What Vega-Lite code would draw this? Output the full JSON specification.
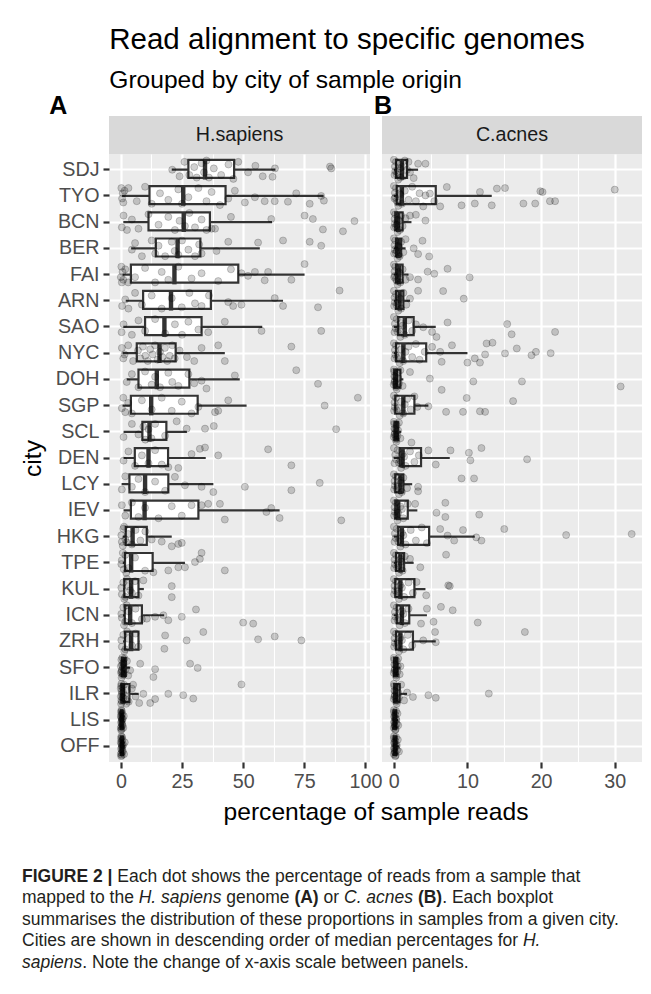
{
"$schema":"https://vega.github.io/schema/vega-lite/v6.json",
"background":"white",
"padding":{"left":20,"top":24,"right":5,"bottom":5},
"config":{"font":"Liberation Sans","view":{"stroke":null},"axis":{"labelFont":"Liberation Sans","titleFont":"Liberation Sans"},"title":{"font":"Liberation Sans","subtitleFont":"Liberation Sans"}},
"title":{"text":"Read alignment to specific genomes","subtitle":"Grouped by city of sample origin","anchor":"start","fontSize":29.5,"fontWeight":"normal","color":"black","subtitleFontSize":24.6,"subtitleColor":"black","subtitlePadding":14,"offset":0,"dx":89},
"datasets":{
"box":[
{"g":"H","c":"SDJ","lo":20.8,"q1":27.6,"md":34.4,"q3":46.3,"hi":63.2},
{"g":"H","c":"TYO","lo":0.5,"q1":11.7,"md":25.5,"q3":42.8,"hi":82.9},
{"g":"H","c":"BCN","lo":1.0,"q1":11.3,"md":25.7,"q3":36.4,"hi":61.8},
{"g":"H","c":"BER","lo":4.2,"q1":14.3,"md":23.2,"q3":32.5,"hi":56.8},
{"g":"H","c":"FAI","lo":0.7,"q1":4.1,"md":21.9,"q3":48.0,"hi":75.1},
{"g":"H","c":"ARN","lo":2.0,"q1":9.1,"md":20.5,"q3":36.8,"hi":66.3},
{"g":"H","c":"SAO","lo":1.0,"q1":9.9,"md":17.8,"q3":33.0,"hi":57.8},
{"g":"H","c":"NYC","lo":0.7,"q1":6.5,"md":15.8,"q3":22.4,"hi":42.5},
{"g":"H","c":"DOH","lo":2.4,"q1":7.2,"md":14.7,"q3":28.0,"hi":48.6},
{"g":"H","c":"SGP","lo":0.7,"q1":4.1,"md":12.4,"q3":31.4,"hi":51.4},
{"g":"H","c":"SCL","lo":1.1,"q1":8.8,"md":11.7,"q3":18.6,"hi":27.0},
{"g":"H","c":"DEN","lo":1.1,"q1":5.7,"md":11.3,"q3":19.3,"hi":34.7},
{"g":"H","c":"LCY","lo":0.3,"q1":3.5,"md":9.9,"q3":19.4,"hi":37.8},
{"g":"H","c":"IEV","lo":1.1,"q1":4.1,"md":9.7,"q3":31.7,"hi":64.9},
{"g":"H","c":"HKG","lo":0.8,"q1":2.0,"md":4.8,"q3":10.6,"hi":20.8},
{"g":"H","c":"TPE","lo":0.8,"q1":1.7,"md":4.2,"q3":13.0,"hi":26.2},
{"g":"H","c":"KUL","lo":0.9,"q1":1.4,"md":4.2,"q3":7.2,"hi":9.4},
{"g":"H","c":"ICN","lo":0.9,"q1":1.6,"md":3.8,"q3":8.6,"hi":17.7},
{"g":"H","c":"ZRH","lo":0.9,"q1":1.7,"md":4.2,"q3":7.2,"hi":7.6},
{"g":"H","c":"SFO","lo":0.1,"q1":0.4,"md":1.0,"q3":2.0,"hi":3.8},
{"g":"H","c":"ILR","lo":0.0,"q1":0.2,"md":0.8,"q3":3.5,"hi":7.3},
{"g":"H","c":"LIS","lo":0.0,"q1":0.1,"md":0.3,"q3":0.6,"hi":1.2},
{"g":"H","c":"OFF","lo":0.0,"q1":0.1,"md":0.4,"q3":0.8,"hi":1.6},
{"g":"C","c":"SDJ","lo":0,"q1":0.3,"md":1.1,"q3":1.8,"hi":3.3},
{"g":"C","c":"TYO","lo":0,"q1":0.4,"md":1.1,"q3":5.7,"hi":13.3},
{"g":"C","c":"BCN","lo":0,"q1":0.2,"md":0.6,"q3":1.2,"hi":2.4},
{"g":"C","c":"BER","lo":0,"q1":0.3,"md":0.6,"q3":1.0,"hi":1.6},
{"g":"C","c":"FAI","lo":0,"q1":0.3,"md":0.7,"q3":1.2,"hi":2.0},
{"g":"C","c":"ARN","lo":0,"q1":0.3,"md":0.8,"q3":1.3,"hi":2.2},
{"g":"C","c":"SAO","lo":0,"q1":0.6,"md":1.5,"q3":2.7,"hi":5.7},
{"g":"C","c":"NYC","lo":0,"q1":0.3,"md":1.3,"q3":4.4,"hi":10.0},
{"g":"C","c":"DOH","lo":0,"q1":0.05,"md":0.3,"q3":0.9,"hi":1.3},
{"g":"C","c":"SGP","lo":0,"q1":0.2,"md":1.3,"q3":2.8,"hi":4.7},
{"g":"C","c":"SCL","lo":0,"q1":0.1,"md":0.3,"q3":0.6,"hi":1.0},
{"g":"C","c":"DEN","lo":0,"q1":0.8,"md":1.2,"q3":3.7,"hi":7.6},
{"g":"C","c":"LCY","lo":0,"q1":0.2,"md":0.9,"q3":1.3,"hi":2.5},
{"g":"C","c":"IEV","lo":0,"q1":0.2,"md":0.6,"q3":1.9,"hi":3.2},
{"g":"C","c":"HKG","lo":0,"q1":0.6,"md":1.1,"q3":4.8,"hi":11.0},
{"g":"C","c":"TPE","lo":0,"q1":0.3,"md":0.9,"q3":1.4,"hi":2.7},
{"g":"C","c":"KUL","lo":0,"q1":0.2,"md":0.9,"q3":2.8,"hi":4.3},
{"g":"C","c":"ICN","lo":0,"q1":0.4,"md":1.1,"q3":2.1,"hi":4.5},
{"g":"C","c":"ZRH","lo":0,"q1":0.3,"md":0.9,"q3":2.6,"hi":5.7},
{"g":"C","c":"SFO","lo":0,"q1":0.05,"md":0.2,"q3":0.5,"hi":0.9},
{"g":"C","c":"ILR","lo":0,"q1":0.05,"md":0.3,"q3":0.8,"hi":1.8},
{"g":"C","c":"LIS","lo":0,"q1":0.02,"md":0.1,"q3":0.3,"hi":0.6},
{"g":"C","c":"OFF","lo":0,"q1":0.02,"md":0.15,"q3":0.35,"hi":0.7}
],
"pts":[
{"g":"H","c":"SDJ","v":21,"j":0},{"g":"H","c":"SDJ","v":24,"j":0.25},{"g":"H","c":"SDJ","v":26,"j":-0.3},{"g":"H","c":"SDJ","v":28,"j":0.2},{"g":"H","c":"SDJ","v":30,"j":-0.1},{"g":"H","c":"SDJ","v":31,"j":0.3},{"g":"H","c":"SDJ","v":33,"j":-0.25},{"g":"H","c":"SDJ","v":34,"j":0.1},{"g":"H","c":"SDJ","v":35,"j":-0.35},{"g":"H","c":"SDJ","v":36,"j":0.3},{"g":"H","c":"SDJ","v":38,"j":-0.05},{"g":"H","c":"SDJ","v":41,"j":0.2},{"g":"H","c":"SDJ","v":44,"j":-0.2},{"g":"H","c":"SDJ","v":46,"j":0.35},{"g":"H","c":"SDJ","v":48,"j":-0.3},{"g":"H","c":"SDJ","v":52,"j":0.1},{"g":"H","c":"SDJ","v":55,"j":-0.15},{"g":"H","c":"SDJ","v":58,"j":0.25},{"g":"H","c":"SDJ","v":62,"j":0.27},{"g":"H","c":"SDJ","v":63,"j":-0.05},{"g":"H","c":"SDJ","v":85.5,"j":-0.12},{"g":"H","c":"SDJ","v":86,"j":-0.05},
{"g":"H","c":"TYO","v":0.2,"j":-0.3},{"g":"H","c":"TYO","v":0.5,"j":0.1},{"g":"H","c":"TYO","v":0.8,"j":-0.1},{"g":"H","c":"TYO","v":1.0,"j":0.25},{"g":"H","c":"TYO","v":1.5,"j":-0.2},{"g":"H","c":"TYO","v":3.1,"j":-0.3},{"g":"H","c":"TYO","v":6.5,"j":0.2},{"g":"H","c":"TYO","v":9.9,"j":-0.35},{"g":"H","c":"TYO","v":12.6,"j":0.3},{"g":"H","c":"TYO","v":16,"j":-0.1},{"g":"H","c":"TYO","v":19.4,"j":0.15},{"g":"H","c":"TYO","v":23.5,"j":-0.25},{"g":"H","c":"TYO","v":25,"j":0.3},{"g":"H","c":"TYO","v":27.6,"j":0.05},{"g":"H","c":"TYO","v":31.7,"j":-0.3},{"g":"H","c":"TYO","v":35,"j":0.2},{"g":"H","c":"TYO","v":37.1,"j":-0.15},{"g":"H","c":"TYO","v":40.5,"j":0.35},{"g":"H","c":"TYO","v":43.9,"j":0.1},{"g":"H","c":"TYO","v":46.6,"j":-0.2},{"g":"H","c":"TYO","v":50.7,"j":0.25},{"g":"H","c":"TYO","v":54.8,"j":0.05},{"g":"H","c":"TYO","v":58.8,"j":0.2},{"g":"H","c":"TYO","v":62.9,"j":0.2},{"g":"H","c":"TYO","v":68.3,"j":0.22},{"g":"H","c":"TYO","v":71.7,"j":-0.1},{"g":"H","c":"TYO","v":77.2,"j":0.3},{"g":"H","c":"TYO","v":81.9,"j":0},{"g":"H","c":"TYO","v":83.0,"j":0.18},
{"g":"H","c":"BCN","v":0.4,"j":0.2},{"g":"H","c":"BCN","v":1.1,"j":-0.25},{"g":"H","c":"BCN","v":2.5,"j":0.3},{"g":"H","c":"BCN","v":4.5,"j":-0.1},{"g":"H","c":"BCN","v":7.2,"j":0.25},{"g":"H","c":"BCN","v":11.3,"j":-0.3},{"g":"H","c":"BCN","v":15.4,"j":0.1},{"g":"H","c":"BCN","v":19.4,"j":-0.2},{"g":"H","c":"BCN","v":22.1,"j":0.3},{"g":"H","c":"BCN","v":24,"j":-0.05},{"g":"H","c":"BCN","v":26.2,"j":0.15},{"g":"H","c":"BCN","v":28,"j":-0.35},{"g":"H","c":"BCN","v":30.3,"j":0.2},{"g":"H","c":"BCN","v":33.0,"j":-0.1},{"g":"H","c":"BCN","v":35,"j":0.3},{"g":"H","c":"BCN","v":37.1,"j":0.25},{"g":"H","c":"BCN","v":38.5,"j":0.25},{"g":"H","c":"BCN","v":45,"j":-0.2},{"g":"H","c":"BCN","v":61.5,"j":-0.12},{"g":"H","c":"BCN","v":75.1,"j":-0.25},{"g":"H","c":"BCN","v":78.5,"j":-0.12},{"g":"H","c":"BCN","v":82.6,"j":0.28},{"g":"H","c":"BCN","v":90.8,"j":0.35},{"g":"H","c":"BCN","v":95.5,"j":-0.04},
{"g":"H","c":"BER","v":4.5,"j":0.05},{"g":"H","c":"BER","v":5.8,"j":-0.2},{"g":"H","c":"BER","v":8.6,"j":0.3},{"g":"H","c":"BER","v":12.6,"j":-0.3},{"g":"H","c":"BER","v":14,"j":0.2},{"g":"H","c":"BER","v":15.4,"j":-0.1},{"g":"H","c":"BER","v":18.1,"j":0.3},{"g":"H","c":"BER","v":20.8,"j":-0.25},{"g":"H","c":"BER","v":22,"j":0.1},{"g":"H","c":"BER","v":23.5,"j":0.25},{"g":"H","c":"BER","v":25,"j":-0.3},{"g":"H","c":"BER","v":27.6,"j":0.05},{"g":"H","c":"BER","v":30.3,"j":0.3},{"g":"H","c":"BER","v":32,"j":-0.15},{"g":"H","c":"BER","v":33,"j":0.2},{"g":"H","c":"BER","v":39.1,"j":0.1},{"g":"H","c":"BER","v":43.9,"j":-0.25},{"g":"H","c":"BER","v":56.1,"j":-0.22},{"g":"H","c":"BER","v":66.3,"j":-0.3},{"g":"H","c":"BER","v":77.2,"j":-0.25},{"g":"H","c":"BER","v":81.9,"j":-0.1},
{"g":"H","c":"FAI","v":0.0,"j":0.1},{"g":"H","c":"FAI","v":0.2,"j":-0.3},{"g":"H","c":"FAI","v":0.4,"j":0.3},{"g":"H","c":"FAI","v":0.7,"j":-0.1},{"g":"H","c":"FAI","v":1.0,"j":0.2},{"g":"H","c":"FAI","v":1.8,"j":-0.2},{"g":"H","c":"FAI","v":3,"j":0.3},{"g":"H","c":"FAI","v":5.8,"j":0.1},{"g":"H","c":"FAI","v":9.9,"j":-0.25},{"g":"H","c":"FAI","v":14,"j":0.3},{"g":"H","c":"FAI","v":16.7,"j":-0.1},{"g":"H","c":"FAI","v":19.4,"j":0.2},{"g":"H","c":"FAI","v":23.5,"j":-0.3},{"g":"H","c":"FAI","v":28.9,"j":0.15},{"g":"H","c":"FAI","v":33,"j":-0.05},{"g":"H","c":"FAI","v":39.8,"j":0.25},{"g":"H","c":"FAI","v":45,"j":-0.2},{"g":"H","c":"FAI","v":49.3,"j":-0.05},{"g":"H","c":"FAI","v":52,"j":0.05},{"g":"H","c":"FAI","v":54.8,"j":-0.1},{"g":"H","c":"FAI","v":58.8,"j":0.22},{"g":"H","c":"FAI","v":60.2,"j":-0.1},{"g":"H","c":"FAI","v":69.7,"j":0.2},{"g":"H","c":"FAI","v":75.1,"j":-0.4},
{"g":"H","c":"ARN","v":0.5,"j":0.2},{"g":"H","c":"ARN","v":1.8,"j":-0.05},{"g":"H","c":"ARN","v":3.1,"j":0.3},{"g":"H","c":"ARN","v":5.8,"j":-0.3},{"g":"H","c":"ARN","v":8.6,"j":0.15},{"g":"H","c":"ARN","v":12.6,"j":-0.2},{"g":"H","c":"ARN","v":16.7,"j":0.3},{"g":"H","c":"ARN","v":20.8,"j":-0.1},{"g":"H","c":"ARN","v":24.9,"j":0.25},{"g":"H","c":"ARN","v":28,"j":-0.3},{"g":"H","c":"ARN","v":30.3,"j":0.1},{"g":"H","c":"ARN","v":33,"j":0.2},{"g":"H","c":"ARN","v":36,"j":-0.2},{"g":"H","c":"ARN","v":43.9,"j":0.05},{"g":"H","c":"ARN","v":45.9,"j":0.2},{"g":"H","c":"ARN","v":49.3,"j":0.15},{"g":"H","c":"ARN","v":62.9,"j":-0.1},{"g":"H","c":"ARN","v":66.3,"j":0.2},{"g":"H","c":"ARN","v":80.6,"j":0.25},{"g":"H","c":"ARN","v":89.4,"j":-0.39},
{"g":"H","c":"SAO","v":0.3,"j":0.2},{"g":"H","c":"SAO","v":1.1,"j":-0.1},{"g":"H","c":"SAO","v":4.5,"j":0.3},{"g":"H","c":"SAO","v":7.2,"j":-0.25},{"g":"H","c":"SAO","v":9.9,"j":0.15},{"g":"H","c":"SAO","v":14,"j":-0.3},{"g":"H","c":"SAO","v":18.1,"j":0.25},{"g":"H","c":"SAO","v":22.1,"j":-0.1},{"g":"H","c":"SAO","v":25,"j":0.3},{"g":"H","c":"SAO","v":27.6,"j":-0.2},{"g":"H","c":"SAO","v":31.7,"j":0.1},{"g":"H","c":"SAO","v":35.7,"j":0.2},{"g":"H","c":"SAO","v":42.5,"j":-0.2},{"g":"H","c":"SAO","v":57.5,"j":0.15},{"g":"H","c":"SAO","v":81.9,"j":0.15},
{"g":"H","c":"NYC","v":0.4,"j":-0.2},{"g":"H","c":"NYC","v":1,"j":0.2},{"g":"H","c":"NYC","v":1.5,"j":0.05},{"g":"H","c":"NYC","v":3,"j":-0.3},{"g":"H","c":"NYC","v":5,"j":0.3},{"g":"H","c":"NYC","v":7,"j":-0.1},{"g":"H","c":"NYC","v":8,"j":0.2},{"g":"H","c":"NYC","v":9,"j":-0.25},{"g":"H","c":"NYC","v":10,"j":0.1},{"g":"H","c":"NYC","v":11,"j":0.3},{"g":"H","c":"NYC","v":12,"j":-0.15},{"g":"H","c":"NYC","v":13,"j":0.05},{"g":"H","c":"NYC","v":14,"j":-0.3},{"g":"H","c":"NYC","v":15,"j":0.25},{"g":"H","c":"NYC","v":16,"j":-0.05},{"g":"H","c":"NYC","v":17,"j":0.15},{"g":"H","c":"NYC","v":18,"j":-0.2},{"g":"H","c":"NYC","v":19,"j":0.3},{"g":"H","c":"NYC","v":20,"j":0.1},{"g":"H","c":"NYC","v":21,"j":-0.3},{"g":"H","c":"NYC","v":22,"j":0.2},{"g":"H","c":"NYC","v":24,"j":-0.1},{"g":"H","c":"NYC","v":27,"j":0.15},{"g":"H","c":"NYC","v":30,"j":0.3},{"g":"H","c":"NYC","v":33,"j":-0.2},{"g":"H","c":"NYC","v":39.8,"j":-0.3},{"g":"H","c":"NYC","v":42.5,"j":0.3},{"g":"H","c":"NYC","v":69.7,"j":-0.25},
{"g":"H","c":"DOH","v":2.4,"j":0.1},{"g":"H","c":"DOH","v":4.5,"j":-0.2},{"g":"H","c":"DOH","v":7.2,"j":0.3},{"g":"H","c":"DOH","v":9.9,"j":-0.3},{"g":"H","c":"DOH","v":12.6,"j":0.2},{"g":"H","c":"DOH","v":14,"j":-0.1},{"g":"H","c":"DOH","v":16,"j":0.3},{"g":"H","c":"DOH","v":19.4,"j":-0.25},{"g":"H","c":"DOH","v":21,"j":0.1},{"g":"H","c":"DOH","v":23.5,"j":0.25},{"g":"H","c":"DOH","v":27.6,"j":-0.2},{"g":"H","c":"DOH","v":30,"j":0.15},{"g":"H","c":"DOH","v":33,"j":0.05},{"g":"H","c":"DOH","v":35,"j":0.35},{"g":"H","c":"DOH","v":46.6,"j":-0.15},{"g":"H","c":"DOH","v":71.7,"j":-0.35},{"g":"H","c":"DOH","v":80.6,"j":0.17},
{"g":"H","c":"SGP","v":0.4,"j":0.1},{"g":"H","c":"SGP","v":1.0,"j":-0.3},{"g":"H","c":"SGP","v":1.8,"j":0.25},{"g":"H","c":"SGP","v":3,"j":-0.1},{"g":"H","c":"SGP","v":4.5,"j":0.3},{"g":"H","c":"SGP","v":8.6,"j":-0.2},{"g":"H","c":"SGP","v":12.6,"j":0.15},{"g":"H","c":"SGP","v":16.7,"j":-0.3},{"g":"H","c":"SGP","v":20.8,"j":0.2},{"g":"H","c":"SGP","v":24.9,"j":-0.15},{"g":"H","c":"SGP","v":28.9,"j":0.3},{"g":"H","c":"SGP","v":31.7,"j":0.05},{"g":"H","c":"SGP","v":38.5,"j":0.25},{"g":"H","c":"SGP","v":39.8,"j":0.2},{"g":"H","c":"SGP","v":43.9,"j":-0.2},{"g":"H","c":"SGP","v":83.3,"j":0},{"g":"H","c":"SGP","v":96.9,"j":-0.3},
{"g":"H","c":"SCL","v":1.1,"j":0.2},{"g":"H","c":"SCL","v":4.5,"j":-0.3},{"g":"H","c":"SCL","v":7.2,"j":0.1},{"g":"H","c":"SCL","v":9.2,"j":-0.2},{"g":"H","c":"SCL","v":10,"j":0.3},{"g":"H","c":"SCL","v":11.3,"j":-0.1},{"g":"H","c":"SCL","v":12.5,"j":0.25},{"g":"H","c":"SCL","v":14,"j":-0.3},{"g":"H","c":"SCL","v":18.1,"j":0.15},{"g":"H","c":"SCL","v":22.8,"j":-0.4},{"g":"H","c":"SCL","v":26.9,"j":-0.12},{"g":"H","c":"SCL","v":34.4,"j":-0.12},{"g":"H","c":"SCL","v":38.0,"j":-0.22},{"g":"H","c":"SCL","v":88.0,"j":-0.1},
{"g":"H","c":"DEN","v":1.1,"j":0.1},{"g":"H","c":"DEN","v":3.1,"j":-0.25},{"g":"H","c":"DEN","v":5.8,"j":0.3},{"g":"H","c":"DEN","v":8.6,"j":-0.1},{"g":"H","c":"DEN","v":11.3,"j":0.2},{"g":"H","c":"DEN","v":14,"j":-0.3},{"g":"H","c":"DEN","v":16.7,"j":0.25},{"g":"H","c":"DEN","v":19.4,"j":0.35},{"g":"H","c":"DEN","v":23.5,"j":0.38},{"g":"H","c":"DEN","v":28.9,"j":-0.15},{"g":"H","c":"DEN","v":32.3,"j":-0.35},{"g":"H","c":"DEN","v":34.4,"j":-0.4},{"g":"H","c":"DEN","v":39.8,"j":-0.1},{"g":"H","c":"DEN","v":60.2,"j":-0.33},{"g":"H","c":"DEN","v":69.7,"j":0.28},
{"g":"H","c":"LCY","v":0.4,"j":0.2},{"g":"H","c":"LCY","v":1.8,"j":-0.3},{"g":"H","c":"LCY","v":4.5,"j":0.1},{"g":"H","c":"LCY","v":7.2,"j":-0.2},{"g":"H","c":"LCY","v":9.9,"j":0.3},{"g":"H","c":"LCY","v":14,"j":-0.1},{"g":"H","c":"LCY","v":18.1,"j":0.25},{"g":"H","c":"LCY","v":22.1,"j":-0.28},{"g":"H","c":"LCY","v":26.2,"j":0.04},{"g":"H","c":"LCY","v":33,"j":0.1},{"g":"H","c":"LCY","v":37.8,"j":0.3},{"g":"H","c":"LCY","v":50.7,"j":0.1},{"g":"H","c":"LCY","v":69.7,"j":0.23},{"g":"H","c":"LCY","v":81.3,"j":-0.05},
{"g":"H","c":"IEV","v":0.4,"j":-0.2},{"g":"H","c":"IEV","v":1.8,"j":0.2},{"g":"H","c":"IEV","v":4.5,"j":-0.3},{"g":"H","c":"IEV","v":7.2,"j":0.25},{"g":"H","c":"IEV","v":9.9,"j":-0.1},{"g":"H","c":"IEV","v":15.4,"j":0.3},{"g":"H","c":"IEV","v":20.8,"j":-0.16},{"g":"H","c":"IEV","v":24.9,"j":0.2},{"g":"H","c":"IEV","v":28.9,"j":-0.2},{"g":"H","c":"IEV","v":33,"j":-0.2},{"g":"H","c":"IEV","v":35.7,"j":-0.25},{"g":"H","c":"IEV","v":40.5,"j":-0.25},{"g":"H","c":"IEV","v":42.5,"j":0.35},{"g":"H","c":"IEV","v":59.5,"j":0.06},{"g":"H","c":"IEV","v":61.5,"j":-0.09},{"g":"H","c":"IEV","v":64.9,"j":0.29},{"g":"H","c":"IEV","v":90.1,"j":0.38},
{"g":"H","c":"HKG","v":0.4,"j":0.2},{"g":"H","c":"HKG","v":1,"j":-0.3},{"g":"H","c":"HKG","v":1.8,"j":0.1},{"g":"H","c":"HKG","v":3,"j":-0.1},{"g":"H","c":"HKG","v":4.5,"j":0.3},{"g":"H","c":"HKG","v":6,"j":-0.25},{"g":"H","c":"HKG","v":8,"j":0.15},{"g":"H","c":"HKG","v":10,"j":-0.2},{"g":"H","c":"HKG","v":12.6,"j":0.11},{"g":"H","c":"HKG","v":16.7,"j":0.19},{"g":"H","c":"HKG","v":20.8,"j":0.37},{"g":"H","c":"HKG","v":23.5,"j":0.28},{"g":"H","c":"HKG","v":24.9,"j":0.24},{"g":"H","c":"HKG","v":0.2,"j":-0.05},{"g":"H","c":"HKG","v":0.8,"j":0.35},{"g":"H","c":"HKG","v":1.3,"j":-0.38},{"g":"H","c":"HKG","v":2.4,"j":0.22},
{"g":"H","c":"TPE","v":0.4,"j":-0.1},{"g":"H","c":"TPE","v":1.2,"j":0.25},{"g":"H","c":"TPE","v":1.8,"j":-0.3},{"g":"H","c":"TPE","v":3.1,"j":0.2},{"g":"H","c":"TPE","v":5.8,"j":-0.2},{"g":"H","c":"TPE","v":9.9,"j":0.3},{"g":"H","c":"TPE","v":13.3,"j":0.36},{"g":"H","c":"TPE","v":19.4,"j":0.29},{"g":"H","c":"TPE","v":23.5,"j":0.17},{"g":"H","c":"TPE","v":26.2,"j":0.17},{"g":"H","c":"TPE","v":30.3,"j":-0.03},{"g":"H","c":"TPE","v":32.3,"j":-0.15},{"g":"H","c":"TPE","v":33,"j":-0.38},{"g":"H","c":"TPE","v":42.5,"j":0.29},{"g":"H","c":"TPE","v":0.2,"j":0.05},{"g":"H","c":"TPE","v":0.8,"j":-0.38},{"g":"H","c":"TPE","v":2.2,"j":0.38},
{"g":"H","c":"KUL","v":0.4,"j":0.2},{"g":"H","c":"KUL","v":1,"j":-0.25},{"g":"H","c":"KUL","v":1.8,"j":0.3},{"g":"H","c":"KUL","v":3.1,"j":-0.1},{"g":"H","c":"KUL","v":4.5,"j":0.15},{"g":"H","c":"KUL","v":5.8,"j":-0.3},{"g":"H","c":"KUL","v":7.2,"j":0.25},{"g":"H","c":"KUL","v":9.2,"j":-0.33},{"g":"H","c":"KUL","v":20.8,"j":-0.11},{"g":"H","c":"KUL","v":20.8,"j":0.31},{"g":"H","c":"KUL","v":0.2,"j":-0.05},{"g":"H","c":"KUL","v":1.4,"j":0.38},{"g":"H","c":"KUL","v":2.5,"j":-0.38},{"g":"H","c":"KUL","v":3.8,"j":0.05},
{"g":"H","c":"ICN","v":0.4,"j":0.1},{"g":"H","c":"ICN","v":1,"j":-0.3},{"g":"H","c":"ICN","v":1.8,"j":0.25},{"g":"H","c":"ICN","v":3.1,"j":-0.15},{"g":"H","c":"ICN","v":4.5,"j":0.3},{"g":"H","c":"ICN","v":6,"j":-0.25},{"g":"H","c":"ICN","v":8.6,"j":0.15},{"g":"H","c":"ICN","v":10.6,"j":0.13},{"g":"H","c":"ICN","v":14,"j":0.06},{"g":"H","c":"ICN","v":17.4,"j":0},{"g":"H","c":"ICN","v":19.4,"j":0.19},{"g":"H","c":"ICN","v":24.9,"j":0.06},{"g":"H","c":"ICN","v":30.7,"j":-0.22},{"g":"H","c":"ICN","v":50.0,"j":0.28},{"g":"H","c":"ICN","v":54.1,"j":0.32},{"g":"H","c":"ICN","v":0.2,"j":-0.05},{"g":"H","c":"ICN","v":1.3,"j":0.38},{"g":"H","c":"ICN","v":2.4,"j":-0.38},
{"g":"H","c":"ZRH","v":0.4,"j":0.2},{"g":"H","c":"ZRH","v":1,"j":-0.25},{"g":"H","c":"ZRH","v":1.8,"j":0.3},{"g":"H","c":"ZRH","v":3.1,"j":-0.1},{"g":"H","c":"ZRH","v":4.5,"j":0.15},{"g":"H","c":"ZRH","v":6,"j":-0.3},{"g":"H","c":"ZRH","v":7.2,"j":0.2},{"g":"H","c":"ZRH","v":17.8,"j":0.28},{"g":"H","c":"ZRH","v":18.1,"j":-0.23},{"g":"H","c":"ZRH","v":26.9,"j":-0.04},{"g":"H","c":"ZRH","v":33.7,"j":-0.36},{"g":"H","c":"ZRH","v":56.1,"j":-0.08},{"g":"H","c":"ZRH","v":62.9,"j":-0.19},{"g":"H","c":"ZRH","v":73.8,"j":-0.04},{"g":"H","c":"ZRH","v":0.2,"j":-0.05},{"g":"H","c":"ZRH","v":1.4,"j":0.38},{"g":"H","c":"ZRH","v":2.5,"j":-0.38},
{"g":"H","c":"SFO","v":0.1,"j":0.2},{"g":"H","c":"SFO","v":0.2,"j":-0.3},{"g":"H","c":"SFO","v":0.4,"j":0.1},{"g":"H","c":"SFO","v":0.5,"j":-0.1},{"g":"H","c":"SFO","v":0.8,"j":0.3},{"g":"H","c":"SFO","v":1,"j":-0.2},{"g":"H","c":"SFO","v":1.2,"j":0.25},{"g":"H","c":"SFO","v":1.5,"j":-0.35},{"g":"H","c":"SFO","v":2,"j":0.05},{"g":"H","c":"SFO","v":2.5,"j":-0.25},{"g":"H","c":"SFO","v":3,"j":0.3},{"g":"H","c":"SFO","v":3.8,"j":0.1},{"g":"H","c":"SFO","v":7.9,"j":-0.15},{"g":"H","c":"SFO","v":13.3,"j":0.36},{"g":"H","c":"SFO","v":14,"j":0.06},{"g":"H","c":"SFO","v":28.3,"j":-0.15},{"g":"H","c":"SFO","v":31.4,"j":0.01},{"g":"H","c":"SFO","v":0.0,"j":-0.05},{"g":"H","c":"SFO","v":0.3,"j":0.38},{"g":"H","c":"SFO","v":0.6,"j":-0.38},{"g":"H","c":"SFO","v":0.9,"j":0.0},{"g":"H","c":"SFO","v":1.1,"j":-0.15},{"g":"H","c":"SFO","v":0.2,"j":0.15},{"g":"H","c":"SFO","v":0.7,"j":0.22},
{"g":"H","c":"ILR","v":0.0,"j":0.1},{"g":"H","c":"ILR","v":0.1,"j":-0.3},{"g":"H","c":"ILR","v":0.2,"j":0.25},{"g":"H","c":"ILR","v":0.3,"j":-0.1},{"g":"H","c":"ILR","v":0.5,"j":0.3},{"g":"H","c":"ILR","v":0.7,"j":-0.25},{"g":"H","c":"ILR","v":1.0,"j":0.15},{"g":"H","c":"ILR","v":1.3,"j":-0.35},{"g":"H","c":"ILR","v":1.8,"j":0.2},{"g":"H","c":"ILR","v":2.5,"j":-0.15},{"g":"H","c":"ILR","v":3.2,"j":0.3},{"g":"H","c":"ILR","v":4.5,"j":-0.2},{"g":"H","c":"ILR","v":5,"j":-0.35},{"g":"H","c":"ILR","v":6,"j":0.1},{"g":"H","c":"ILR","v":7.5,"j":0.35},{"g":"H","c":"ILR","v":9.2,"j":0},{"g":"H","c":"ILR","v":12,"j":0.35},{"g":"H","c":"ILR","v":14,"j":0.2},{"g":"H","c":"ILR","v":19.4,"j":0},{"g":"H","c":"ILR","v":25.5,"j":0.05},{"g":"H","c":"ILR","v":29.6,"j":0.18},{"g":"H","c":"ILR","v":49.3,"j":-0.36},{"g":"H","c":"ILR","v":0.0,"j":-0.2},{"g":"H","c":"ILR","v":0.1,"j":0.38},{"g":"H","c":"ILR","v":0.2,"j":-0.38},{"g":"H","c":"ILR","v":0.4,"j":0.0},{"g":"H","c":"ILR","v":0.6,"j":0.12},{"g":"H","c":"ILR","v":0.9,"j":-0.05},{"g":"H","c":"ILR","v":1.5,"j":0.05},{"g":"H","c":"ILR","v":2.2,"j":0.38},
{"g":"H","c":"LIS","v":0.0,"j":0.3},{"g":"H","c":"LIS","v":0.05,"j":-0.3},{"g":"H","c":"LIS","v":0.1,"j":0.1},{"g":"H","c":"LIS","v":0.15,"j":-0.1},{"g":"H","c":"LIS","v":0.2,"j":0.25},{"g":"H","c":"LIS","v":0.25,"j":-0.2},{"g":"H","c":"LIS","v":0.3,"j":0.35},{"g":"H","c":"LIS","v":0.35,"j":-0.35},{"g":"H","c":"LIS","v":0.4,"j":0},{"g":"H","c":"LIS","v":0.5,"j":0.15},{"g":"H","c":"LIS","v":0.6,"j":-0.25},{"g":"H","c":"LIS","v":0.7,"j":0.2},{"g":"H","c":"LIS","v":0.8,"j":-0.05},{"g":"H","c":"LIS","v":1.0,"j":0.3},{"g":"H","c":"LIS","v":1.2,"j":-0.15},{"g":"H","c":"LIS","v":0.0,"j":-0.15},{"g":"H","c":"LIS","v":0.1,"j":0.38},{"g":"H","c":"LIS","v":0.2,"j":-0.38},{"g":"H","c":"LIS","v":0.3,"j":0.05},{"g":"H","c":"LIS","v":0.45,"j":-0.05},
{"g":"H","c":"OFF","v":0.0,"j":0.3},{"g":"H","c":"OFF","v":0.05,"j":-0.3},{"g":"H","c":"OFF","v":0.1,"j":0.1},{"g":"H","c":"OFF","v":0.2,"j":-0.1},{"g":"H","c":"OFF","v":0.25,"j":0.25},{"g":"H","c":"OFF","v":0.3,"j":-0.2},{"g":"H","c":"OFF","v":0.4,"j":0.35},{"g":"H","c":"OFF","v":0.5,"j":-0.35},{"g":"H","c":"OFF","v":0.55,"j":0},{"g":"H","c":"OFF","v":0.6,"j":0.15},{"g":"H","c":"OFF","v":0.7,"j":-0.25},{"g":"H","c":"OFF","v":0.8,"j":0.2},{"g":"H","c":"OFF","v":1.0,"j":-0.05},{"g":"H","c":"OFF","v":1.3,"j":0.3},{"g":"H","c":"OFF","v":1.6,"j":-0.15},{"g":"H","c":"OFF","v":0.0,"j":-0.15},{"g":"H","c":"OFF","v":0.1,"j":0.38},{"g":"H","c":"OFF","v":0.2,"j":-0.38},{"g":"H","c":"OFF","v":0.35,"j":0.05},{"g":"H","c":"OFF","v":0.45,"j":-0.05},
{"g":"C","c":"SDJ","v":0.1,"j":0.2},{"g":"C","c":"SDJ","v":0.3,"j":-0.3},{"g":"C","c":"SDJ","v":0.5,"j":0.1},{"g":"C","c":"SDJ","v":0.7,"j":-0.2},{"g":"C","c":"SDJ","v":0.9,"j":0.3},{"g":"C","c":"SDJ","v":1.1,"j":-0.1},{"g":"C","c":"SDJ","v":1.3,"j":0.25},{"g":"C","c":"SDJ","v":1.5,"j":-0.35},{"g":"C","c":"SDJ","v":1.8,"j":0},{"g":"C","c":"SDJ","v":2.0,"j":-0.3},{"g":"C","c":"SDJ","v":2.2,"j":0.1},{"g":"C","c":"SDJ","v":2.7,"j":0.32},{"g":"C","c":"SDJ","v":3.3,"j":-0.23},{"g":"C","c":"SDJ","v":4.3,"j":-0.23},
{"g":"C","c":"TYO","v":0.1,"j":0.1},{"g":"C","c":"TYO","v":0.3,"j":-0.3},{"g":"C","c":"TYO","v":0.5,"j":0.25},{"g":"C","c":"TYO","v":0.8,"j":-0.1},{"g":"C","c":"TYO","v":1.1,"j":0.3},{"g":"C","c":"TYO","v":1.5,"j":-0.2},{"g":"C","c":"TYO","v":2,"j":0.15},{"g":"C","c":"TYO","v":2.5,"j":-0.35},{"g":"C","c":"TYO","v":3,"j":0.2},{"g":"C","c":"TYO","v":3.5,"j":-0.1},{"g":"C","c":"TYO","v":4.0,"j":0.4},{"g":"C","c":"TYO","v":4.3,"j":-0.02},{"g":"C","c":"TYO","v":4.9,"j":-0.09},{"g":"C","c":"TYO","v":5.5,"j":0.2},{"g":"C","c":"TYO","v":6.3,"j":0.4},{"g":"C","c":"TYO","v":7.2,"j":-0.34},{"g":"C","c":"TYO","v":9.2,"j":0.36},{"g":"C","c":"TYO","v":11.0,"j":0.29},{"g":"C","c":"TYO","v":11.7,"j":-0.15},{"g":"C","c":"TYO","v":13.3,"j":0.36},{"g":"C","c":"TYO","v":14,"j":-0.28},{"g":"C","c":"TYO","v":15.1,"j":-0.3},{"g":"C","c":"TYO","v":17.6,"j":0.29},{"g":"C","c":"TYO","v":19.2,"j":0.29},{"g":"C","c":"TYO","v":19.9,"j":-0.18},{"g":"C","c":"TYO","v":20.2,"j":-0.15},{"g":"C","c":"TYO","v":21.2,"j":0.2},{"g":"C","c":"TYO","v":21.9,"j":0.2},{"g":"C","c":"TYO","v":30.0,"j":-0.24},
{"g":"C","c":"BCN","v":0.05,"j":0.2},{"g":"C","c":"BCN","v":0.2,"j":-0.3},{"g":"C","c":"BCN","v":0.4,"j":0.1},{"g":"C","c":"BCN","v":0.6,"j":-0.1},{"g":"C","c":"BCN","v":0.8,"j":0.3},{"g":"C","c":"BCN","v":1.0,"j":-0.25},{"g":"C","c":"BCN","v":1.2,"j":0.15},{"g":"C","c":"BCN","v":1.6,"j":-0.15},{"g":"C","c":"BCN","v":2.2,"j":-0.25},{"g":"C","c":"BCN","v":3.0,"j":-0.28},{"g":"C","c":"BCN","v":4.3,"j":-0.06},
{"g":"C","c":"BER","v":0.05,"j":0.2},{"g":"C","c":"BER","v":0.2,"j":-0.3},{"g":"C","c":"BER","v":0.4,"j":0.1},{"g":"C","c":"BER","v":0.6,"j":-0.1},{"g":"C","c":"BER","v":0.8,"j":0.3},{"g":"C","c":"BER","v":1.0,"j":-0.25},{"g":"C","c":"BER","v":1.3,"j":0.15},{"g":"C","c":"BER","v":1.6,"j":-0.35},{"g":"C","c":"BER","v":2.7,"j":0},{"g":"C","c":"BER","v":3.3,"j":0.22},{"g":"C","c":"BER","v":3.9,"j":-0.29},{"g":"C","c":"BER","v":4.8,"j":0.31},
{"g":"C","c":"FAI","v":0.05,"j":0.1},{"g":"C","c":"FAI","v":0.2,"j":-0.3},{"g":"C","c":"FAI","v":0.4,"j":0.25},{"g":"C","c":"FAI","v":0.7,"j":-0.1},{"g":"C","c":"FAI","v":0.9,"j":0.3},{"g":"C","c":"FAI","v":1.2,"j":-0.2},{"g":"C","c":"FAI","v":1.6,"j":0.2},{"g":"C","c":"FAI","v":2.2,"j":0.1},{"g":"C","c":"FAI","v":3.3,"j":0.19},{"g":"C","c":"FAI","v":4.6,"j":-0.11},{"g":"C","c":"FAI","v":5.5,"j":-0.03},{"g":"C","c":"FAI","v":7.3,"j":-0.22},{"g":"C","c":"FAI","v":10.3,"j":0.11},
{"g":"C","c":"ARN","v":0.05,"j":0.2},{"g":"C","c":"ARN","v":0.3,"j":-0.25},{"g":"C","c":"ARN","v":0.5,"j":0.1},{"g":"C","c":"ARN","v":0.8,"j":-0.1},{"g":"C","c":"ARN","v":1.0,"j":0.3},{"g":"C","c":"ARN","v":1.3,"j":-0.3},{"g":"C","c":"ARN","v":1.7,"j":0.15},{"g":"C","c":"ARN","v":2.2,"j":-0.08},{"g":"C","c":"ARN","v":3.3,"j":-0.38},{"g":"C","c":"ARN","v":6.7,"j":-0.37},{"g":"C","c":"ARN","v":9.5,"j":-0.08},
{"g":"C","c":"SAO","v":0.1,"j":0.2},{"g":"C","c":"SAO","v":0.4,"j":-0.3},{"g":"C","c":"SAO","v":0.7,"j":0.1},{"g":"C","c":"SAO","v":1.0,"j":-0.15},{"g":"C","c":"SAO","v":1.5,"j":0.3},{"g":"C","c":"SAO","v":2.0,"j":-0.25},{"g":"C","c":"SAO","v":2.5,"j":0.15},{"g":"C","c":"SAO","v":3,"j":-0.1},{"g":"C","c":"SAO","v":4.0,"j":0.01},{"g":"C","c":"SAO","v":5.2,"j":0.19},{"g":"C","c":"SAO","v":5.8,"j":0.38},{"g":"C","c":"SAO","v":7.3,"j":-0.17},{"g":"C","c":"SAO","v":15.4,"j":-0.11},{"g":"C","c":"SAO","v":16.0,"j":0.28},{"g":"C","c":"SAO","v":21.9,"j":0.19},
{"g":"C","c":"NYC","v":0.1,"j":0.2},{"g":"C","c":"NYC","v":0.3,"j":-0.3},{"g":"C","c":"NYC","v":0.6,"j":0.1},{"g":"C","c":"NYC","v":1.0,"j":-0.15},{"g":"C","c":"NYC","v":1.3,"j":0.3},{"g":"C","c":"NYC","v":2,"j":-0.25},{"g":"C","c":"NYC","v":2.5,"j":0.15},{"g":"C","c":"NYC","v":3,"j":-0.35},{"g":"C","c":"NYC","v":3.5,"j":0.25},{"g":"C","c":"NYC","v":4.2,"j":-0.05},{"g":"C","c":"NYC","v":5.2,"j":-0.24},{"g":"C","c":"NYC","v":6.3,"j":-0.05},{"g":"C","c":"NYC","v":6.5,"j":0.33},{"g":"C","c":"NYC","v":7.9,"j":-0.3},{"g":"C","c":"NYC","v":10.0,"j":0.36},{"g":"C","c":"NYC","v":11.0,"j":0.2},{"g":"C","c":"NYC","v":11.7,"j":0.36},{"g":"C","c":"NYC","v":12.4,"j":0.05},{"g":"C","c":"NYC","v":12.6,"j":-0.37},{"g":"C","c":"NYC","v":13.4,"j":-0.4},{"g":"C","c":"NYC","v":15.1,"j":0.01},{"g":"C","c":"NYC","v":16.7,"j":-0.18},{"g":"C","c":"NYC","v":18.7,"j":0.08},{"g":"C","c":"NYC","v":19.3,"j":-0.05},{"g":"C","c":"NYC","v":21.3,"j":0},
{"g":"C","c":"DOH","v":0.0,"j":0.2},{"g":"C","c":"DOH","v":0.05,"j":-0.3},{"g":"C","c":"DOH","v":0.1,"j":0.1},{"g":"C","c":"DOH","v":0.2,"j":-0.1},{"g":"C","c":"DOH","v":0.3,"j":0.3},{"g":"C","c":"DOH","v":0.5,"j":-0.25},{"g":"C","c":"DOH","v":0.7,"j":0.15},{"g":"C","c":"DOH","v":0.9,"j":-0.35},{"g":"C","c":"DOH","v":1.2,"j":0.25},{"g":"C","c":"DOH","v":2.2,"j":-0.28},{"g":"C","c":"DOH","v":4.9,"j":-0.03},{"g":"C","c":"DOH","v":6.5,"j":0.4},{"g":"C","c":"DOH","v":10.8,"j":0.08},{"g":"C","c":"DOH","v":17.4,"j":0.08},{"g":"C","c":"DOH","v":30.8,"j":0.27},
{"g":"C","c":"SGP","v":0.05,"j":0.2},{"g":"C","c":"SGP","v":0.3,"j":-0.3},{"g":"C","c":"SGP","v":0.6,"j":0.1},{"g":"C","c":"SGP","v":1.0,"j":-0.15},{"g":"C","c":"SGP","v":1.3,"j":0.3},{"g":"C","c":"SGP","v":1.8,"j":-0.25},{"g":"C","c":"SGP","v":2.3,"j":0.15},{"g":"C","c":"SGP","v":2.8,"j":-0.35},{"g":"C","c":"SGP","v":3.2,"j":0.05},{"g":"C","c":"SGP","v":4.7,"j":0.03},{"g":"C","c":"SGP","v":7.1,"j":0.24},{"g":"C","c":"SGP","v":9.4,"j":0.24},{"g":"C","c":"SGP","v":9.9,"j":-0.29},{"g":"C","c":"SGP","v":11.7,"j":0.22},{"g":"C","c":"SGP","v":12.4,"j":0.24},{"g":"C","c":"SGP","v":16.2,"j":-0.17},
{"g":"C","c":"SCL","v":0.0,"j":0.2},{"g":"C","c":"SCL","v":0.05,"j":-0.3},{"g":"C","c":"SCL","v":0.1,"j":0.1},{"g":"C","c":"SCL","v":0.2,"j":-0.1},{"g":"C","c":"SCL","v":0.3,"j":0.3},{"g":"C","c":"SCL","v":0.4,"j":-0.25},{"g":"C","c":"SCL","v":0.5,"j":0.15},{"g":"C","c":"SCL","v":0.7,"j":-0.35},{"g":"C","c":"SCL","v":0.9,"j":0.25},{"g":"C","c":"SCL","v":2.4,"j":0.41},
{"g":"C","c":"DEN","v":0.1,"j":0.2},{"g":"C","c":"DEN","v":0.5,"j":-0.3},{"g":"C","c":"DEN","v":0.9,"j":0.1},{"g":"C","c":"DEN","v":1.2,"j":-0.15},{"g":"C","c":"DEN","v":1.6,"j":0.3},{"g":"C","c":"DEN","v":2.2,"j":-0.25},{"g":"C","c":"DEN","v":2.8,"j":0.15},{"g":"C","c":"DEN","v":3.4,"j":-0.1},{"g":"C","c":"DEN","v":4.7,"j":-0.29},{"g":"C","c":"DEN","v":5.7,"j":0.25},{"g":"C","c":"DEN","v":7.7,"j":-0.29},{"g":"C","c":"DEN","v":10.2,"j":-0.2},{"g":"C","c":"DEN","v":10.4,"j":0.09},{"g":"C","c":"DEN","v":11.9,"j":-0.38},{"g":"C","c":"DEN","v":18.1,"j":0.05},
{"g":"C","c":"LCY","v":0.05,"j":0.2},{"g":"C","c":"LCY","v":0.3,"j":-0.3},{"g":"C","c":"LCY","v":0.6,"j":0.1},{"g":"C","c":"LCY","v":0.9,"j":-0.15},{"g":"C","c":"LCY","v":1.1,"j":0.3},{"g":"C","c":"LCY","v":1.3,"j":-0.25},{"g":"C","c":"LCY","v":1.8,"j":0.15},{"g":"C","c":"LCY","v":3.3,"j":0.1},{"g":"C","c":"LCY","v":3.3,"j":0.27},{"g":"C","c":"LCY","v":9.2,"j":-0.22},{"g":"C","c":"LCY","v":10.9,"j":-0.22},
{"g":"C","c":"IEV","v":0.05,"j":0.2},{"g":"C","c":"IEV","v":0.3,"j":-0.3},{"g":"C","c":"IEV","v":0.6,"j":0.1},{"g":"C","c":"IEV","v":0.9,"j":-0.15},{"g":"C","c":"IEV","v":1.3,"j":0.3},{"g":"C","c":"IEV","v":1.9,"j":-0.25},{"g":"C","c":"IEV","v":2.9,"j":-0.25},{"g":"C","c":"IEV","v":5.8,"j":0.09},{"g":"C","c":"IEV","v":7.0,"j":-0.29},{"g":"C","c":"IEV","v":7.0,"j":0.25},{"g":"C","c":"IEV","v":11.6,"j":0.16},
{"g":"C","c":"HKG","v":0.1,"j":0.2},{"g":"C","c":"HKG","v":0.4,"j":-0.3},{"g":"C","c":"HKG","v":0.8,"j":0.1},{"g":"C","c":"HKG","v":1.1,"j":-0.15},{"g":"C","c":"HKG","v":1.6,"j":0.3},{"g":"C","c":"HKG","v":2.3,"j":-0.25},{"g":"C","c":"HKG","v":3.0,"j":0.15},{"g":"C","c":"HKG","v":3.8,"j":-0.35},{"g":"C","c":"HKG","v":4.5,"j":0.25},{"g":"C","c":"HKG","v":6.3,"j":-0.29},{"g":"C","c":"HKG","v":7.3,"j":-0.04},{"g":"C","c":"HKG","v":8.2,"j":0.15},{"g":"C","c":"HKG","v":9.4,"j":-0.25},{"g":"C","c":"HKG","v":11.2,"j":0.03},{"g":"C","c":"HKG","v":11.9,"j":0.15},{"g":"C","c":"HKG","v":15.0,"j":-0.29},{"g":"C","c":"HKG","v":23.4,"j":-0.06},{"g":"C","c":"HKG","v":32.3,"j":-0.1},
{"g":"C","c":"TPE","v":0.05,"j":0.2},{"g":"C","c":"TPE","v":0.3,"j":-0.3},{"g":"C","c":"TPE","v":0.6,"j":0.1},{"g":"C","c":"TPE","v":0.9,"j":-0.15},{"g":"C","c":"TPE","v":1.2,"j":0.3},{"g":"C","c":"TPE","v":1.5,"j":-0.25},{"g":"C","c":"TPE","v":2.2,"j":-0.15},{"g":"C","c":"TPE","v":3.6,"j":0.17},{"g":"C","c":"TPE","v":7.1,"j":-0.31},
{"g":"C","c":"KUL","v":0.05,"j":0.2},{"g":"C","c":"KUL","v":0.3,"j":-0.3},{"g":"C","c":"KUL","v":0.6,"j":0.1},{"g":"C","c":"KUL","v":0.9,"j":-0.15},{"g":"C","c":"KUL","v":1.4,"j":0.3},{"g":"C","c":"KUL","v":2.0,"j":-0.25},{"g":"C","c":"KUL","v":2.6,"j":0.15},{"g":"C","c":"KUL","v":3.1,"j":-0.27},{"g":"C","c":"KUL","v":4.4,"j":0.24},{"g":"C","c":"KUL","v":7.4,"j":-0.14},{"g":"C","c":"KUL","v":7.6,"j":-0.11},
{"g":"C","c":"ICN","v":0.1,"j":0.2},{"g":"C","c":"ICN","v":0.4,"j":-0.3},{"g":"C","c":"ICN","v":0.7,"j":0.1},{"g":"C","c":"ICN","v":1.1,"j":-0.15},{"g":"C","c":"ICN","v":1.5,"j":0.3},{"g":"C","c":"ICN","v":2.0,"j":-0.25},{"g":"C","c":"ICN","v":3.7,"j":0.32},{"g":"C","c":"ICN","v":4.5,"j":-0.25},{"g":"C","c":"ICN","v":5.4,"j":0.25},{"g":"C","c":"ICN","v":6.4,"j":-0.32},{"g":"C","c":"ICN","v":8.0,"j":-0.19},{"g":"C","c":"ICN","v":11.4,"j":0.28},
{"g":"C","c":"ZRH","v":0.05,"j":0.2},{"g":"C","c":"ZRH","v":0.3,"j":-0.3},{"g":"C","c":"ZRH","v":0.6,"j":0.1},{"g":"C","c":"ZRH","v":0.9,"j":-0.15},{"g":"C","c":"ZRH","v":1.3,"j":0.3},{"g":"C","c":"ZRH","v":1.9,"j":-0.25},{"g":"C","c":"ZRH","v":2.5,"j":0.15},{"g":"C","c":"ZRH","v":4.0,"j":-0.04},{"g":"C","c":"ZRH","v":5.6,"j":-0.36},{"g":"C","c":"ZRH","v":5.7,"j":0.03},{"g":"C","c":"ZRH","v":17.8,"j":-0.36},
{"g":"C","c":"SFO","v":0.0,"j":0.2},{"g":"C","c":"SFO","v":0.05,"j":-0.3},{"g":"C","c":"SFO","v":0.1,"j":0.1},{"g":"C","c":"SFO","v":0.2,"j":-0.1},{"g":"C","c":"SFO","v":0.3,"j":0.3},{"g":"C","c":"SFO","v":0.4,"j":-0.25},{"g":"C","c":"SFO","v":0.5,"j":0.15},{"g":"C","c":"SFO","v":0.6,"j":-0.35},{"g":"C","c":"SFO","v":0.8,"j":0.25},{"g":"C","c":"SFO","v":0.9,"j":-0.05},
{"g":"C","c":"ILR","v":0.0,"j":0.2},{"g":"C","c":"ILR","v":0.05,"j":-0.3},{"g":"C","c":"ILR","v":0.1,"j":0.1},{"g":"C","c":"ILR","v":0.2,"j":-0.1},{"g":"C","c":"ILR","v":0.3,"j":0.3},{"g":"C","c":"ILR","v":0.5,"j":-0.25},{"g":"C","c":"ILR","v":0.7,"j":0.15},{"g":"C","c":"ILR","v":1.0,"j":-0.35},{"g":"C","c":"ILR","v":1.4,"j":0.25},{"g":"C","c":"ILR","v":1.8,"j":-0.05},{"g":"C","c":"ILR","v":2.6,"j":0.12},{"g":"C","c":"ILR","v":4.7,"j":0.05},{"g":"C","c":"ILR","v":5.7,"j":0.15},{"g":"C","c":"ILR","v":12.9,"j":-0.01},
{"g":"C","c":"LIS","v":0.0,"j":0.3},{"g":"C","c":"LIS","v":0.02,"j":-0.3},{"g":"C","c":"LIS","v":0.05,"j":0.1},{"g":"C","c":"LIS","v":0.1,"j":-0.1},{"g":"C","c":"LIS","v":0.15,"j":0.25},{"g":"C","c":"LIS","v":0.2,"j":-0.2},{"g":"C","c":"LIS","v":0.25,"j":0.35},{"g":"C","c":"LIS","v":0.3,"j":-0.35},{"g":"C","c":"LIS","v":0.35,"j":0},{"g":"C","c":"LIS","v":0.4,"j":0.15},{"g":"C","c":"LIS","v":0.5,"j":-0.25},{"g":"C","c":"LIS","v":0.6,"j":0.2},
{"g":"C","c":"OFF","v":0.0,"j":0.3},{"g":"C","c":"OFF","v":0.02,"j":-0.3},{"g":"C","c":"OFF","v":0.05,"j":0.1},{"g":"C","c":"OFF","v":0.1,"j":-0.1},{"g":"C","c":"OFF","v":0.15,"j":0.25},{"g":"C","c":"OFF","v":0.2,"j":-0.2},{"g":"C","c":"OFF","v":0.25,"j":0.35},{"g":"C","c":"OFF","v":0.3,"j":-0.35},{"g":"C","c":"OFF","v":0.35,"j":0},{"g":"C","c":"OFF","v":0.45,"j":0.15},{"g":"C","c":"OFF","v":0.55,"j":-0.25},{"g":"C","c":"OFF","v":0.7,"j":0.2},
{"g":"C","c":"SDJ","v":0.02,"j":-0.38},{"g":"C","c":"SDJ","v":0.2,"j":0.05},{"g":"C","c":"SDJ","v":0.6,"j":0.38},{"g":"C","c":"SDJ","v":0.15,"j":-0.12},{"g":"C","c":"SDJ","v":0.4,"j":0.18},{"g":"C","c":"SDJ","v":0.8,"j":-0.05},
{"g":"C","c":"TYO","v":0.02,"j":-0.38},{"g":"C","c":"TYO","v":0.2,"j":0.05},{"g":"C","c":"TYO","v":0.6,"j":0.38},{"g":"C","c":"TYO","v":0.15,"j":-0.12},{"g":"C","c":"TYO","v":0.4,"j":0.18},{"g":"C","c":"TYO","v":0.9,"j":-0.05},
{"g":"C","c":"BCN","v":0.02,"j":-0.38},{"g":"C","c":"BCN","v":0.15,"j":0.05},{"g":"C","c":"BCN","v":0.5,"j":0.38},{"g":"C","c":"BCN","v":0.1,"j":-0.12},{"g":"C","c":"BCN","v":0.3,"j":0.18},{"g":"C","c":"BCN","v":0.7,"j":-0.05},
{"g":"C","c":"BER","v":0.02,"j":-0.38},{"g":"C","c":"BER","v":0.15,"j":0.05},{"g":"C","c":"BER","v":0.5,"j":0.38},{"g":"C","c":"BER","v":0.1,"j":-0.12},{"g":"C","c":"BER","v":0.3,"j":0.18},{"g":"C","c":"BER","v":0.7,"j":-0.05},
{"g":"C","c":"FAI","v":0.02,"j":-0.38},{"g":"C","c":"FAI","v":0.15,"j":0.05},{"g":"C","c":"FAI","v":0.5,"j":0.38},{"g":"C","c":"FAI","v":0.1,"j":-0.12},{"g":"C","c":"FAI","v":0.3,"j":0.18},{"g":"C","c":"FAI","v":0.8,"j":-0.05},
{"g":"C","c":"ARN","v":0.02,"j":-0.38},{"g":"C","c":"ARN","v":0.15,"j":0.05},{"g":"C","c":"ARN","v":0.6,"j":0.38},{"g":"C","c":"ARN","v":0.1,"j":-0.12},{"g":"C","c":"ARN","v":0.4,"j":0.18},{"g":"C","c":"ARN","v":0.9,"j":-0.05},
{"g":"C","c":"SAO","v":0.02,"j":-0.38},{"g":"C","c":"SAO","v":0.25,"j":0.05},{"g":"C","c":"SAO","v":0.9,"j":0.38},{"g":"C","c":"SAO","v":0.15,"j":-0.12},{"g":"C","c":"SAO","v":0.5,"j":0.18},{"g":"C","c":"SAO","v":1.2,"j":-0.05},
{"g":"C","c":"NYC","v":0.02,"j":-0.38},{"g":"C","c":"NYC","v":0.2,"j":0.05},{"g":"C","c":"NYC","v":0.8,"j":0.38},{"g":"C","c":"NYC","v":0.15,"j":-0.12},{"g":"C","c":"NYC","v":0.45,"j":0.18},{"g":"C","c":"NYC","v":1.6,"j":-0.05},
{"g":"C","c":"DOH","v":0.02,"j":-0.38},{"g":"C","c":"DOH","v":0.15,"j":0.05},{"g":"C","c":"DOH","v":0.4,"j":0.38},{"g":"C","c":"DOH","v":0.08,"j":-0.12},{"g":"C","c":"DOH","v":0.25,"j":0.18},{"g":"C","c":"DOH","v":0.6,"j":-0.05},
{"g":"C","c":"SGP","v":0.02,"j":-0.38},{"g":"C","c":"SGP","v":0.15,"j":0.05},{"g":"C","c":"SGP","v":0.8,"j":0.38},{"g":"C","c":"SGP","v":0.1,"j":-0.12},{"g":"C","c":"SGP","v":0.4,"j":0.18},{"g":"C","c":"SGP","v":1.5,"j":-0.05},
{"g":"C","c":"SCL","v":0.02,"j":-0.38},{"g":"C","c":"SCL","v":0.15,"j":0.05},{"g":"C","c":"SCL","v":0.35,"j":0.38},{"g":"C","c":"SCL","v":0.08,"j":-0.12},{"g":"C","c":"SCL","v":0.25,"j":0.18},{"g":"C","c":"SCL","v":0.6,"j":-0.05},
{"g":"C","c":"DEN","v":0.02,"j":-0.38},{"g":"C","c":"DEN","v":0.3,"j":0.05},{"g":"C","c":"DEN","v":1.0,"j":0.38},{"g":"C","c":"DEN","v":0.2,"j":-0.12},{"g":"C","c":"DEN","v":0.7,"j":0.18},{"g":"C","c":"DEN","v":1.4,"j":-0.05},
{"g":"C","c":"LCY","v":0.02,"j":-0.38},{"g":"C","c":"LCY","v":0.15,"j":0.05},{"g":"C","c":"LCY","v":0.7,"j":0.38},{"g":"C","c":"LCY","v":0.1,"j":-0.12},{"g":"C","c":"LCY","v":0.4,"j":0.18},{"g":"C","c":"LCY","v":1.0,"j":-0.05},
{"g":"C","c":"IEV","v":0.02,"j":-0.38},{"g":"C","c":"IEV","v":0.15,"j":0.05},{"g":"C","c":"IEV","v":0.5,"j":0.38},{"g":"C","c":"IEV","v":0.1,"j":-0.12},{"g":"C","c":"IEV","v":0.4,"j":0.18},{"g":"C","c":"IEV","v":1.1,"j":-0.05},
{"g":"C","c":"HKG","v":0.02,"j":-0.38},{"g":"C","c":"HKG","v":0.25,"j":0.05},{"g":"C","c":"HKG","v":0.9,"j":0.38},{"g":"C","c":"HKG","v":0.15,"j":-0.12},{"g":"C","c":"HKG","v":0.6,"j":0.18},{"g":"C","c":"HKG","v":1.3,"j":-0.05},
{"g":"C","c":"TPE","v":0.02,"j":-0.38},{"g":"C","c":"TPE","v":0.15,"j":0.05},{"g":"C","c":"TPE","v":0.7,"j":0.38},{"g":"C","c":"TPE","v":0.1,"j":-0.12},{"g":"C","c":"TPE","v":0.45,"j":0.18},{"g":"C","c":"TPE","v":1.0,"j":-0.05},
{"g":"C","c":"KUL","v":0.02,"j":-0.38},{"g":"C","c":"KUL","v":0.15,"j":0.05},{"g":"C","c":"KUL","v":0.7,"j":0.38},{"g":"C","c":"KUL","v":0.1,"j":-0.12},{"g":"C","c":"KUL","v":0.45,"j":0.18},{"g":"C","c":"KUL","v":1.1,"j":-0.05},
{"g":"C","c":"ICN","v":0.02,"j":-0.38},{"g":"C","c":"ICN","v":0.2,"j":0.05},{"g":"C","c":"ICN","v":0.8,"j":0.38},{"g":"C","c":"ICN","v":0.15,"j":-0.12},{"g":"C","c":"ICN","v":0.5,"j":0.18},{"g":"C","c":"ICN","v":1.3,"j":-0.05},
{"g":"C","c":"ZRH","v":0.02,"j":-0.38},{"g":"C","c":"ZRH","v":0.15,"j":0.05},{"g":"C","c":"ZRH","v":0.7,"j":0.38},{"g":"C","c":"ZRH","v":0.1,"j":-0.12},{"g":"C","c":"ZRH","v":0.45,"j":0.18},{"g":"C","c":"ZRH","v":1.1,"j":-0.05},
{"g":"C","c":"SFO","v":0.02,"j":-0.38},{"g":"C","c":"SFO","v":0.15,"j":0.05},{"g":"C","c":"SFO","v":0.35,"j":0.38},{"g":"C","c":"SFO","v":0.08,"j":-0.12},{"g":"C","c":"SFO","v":0.25,"j":0.18},{"g":"C","c":"SFO","v":0.55,"j":-0.05},
{"g":"C","c":"ILR","v":0.02,"j":-0.38},{"g":"C","c":"ILR","v":0.15,"j":0.05},{"g":"C","c":"ILR","v":0.4,"j":0.38},{"g":"C","c":"ILR","v":0.08,"j":-0.12},{"g":"C","c":"ILR","v":0.25,"j":0.18},{"g":"C","c":"ILR","v":0.6,"j":-0.05},
{"g":"C","c":"LIS","v":0.02,"j":-0.38},{"g":"C","c":"LIS","v":0.08,"j":0.05},{"g":"C","c":"LIS","v":0.2,"j":0.38},{"g":"C","c":"LIS","v":0.05,"j":-0.15},{"g":"C","c":"LIS","v":0.12,"j":0.2},{"g":"C","c":"LIS","v":0.3,"j":-0.05},
{"g":"C","c":"OFF","v":0.02,"j":-0.38},{"g":"C","c":"OFF","v":0.08,"j":0.05},{"g":"C","c":"OFF","v":0.2,"j":0.38},{"g":"C","c":"OFF","v":0.05,"j":-0.15},{"g":"C","c":"OFF","v":0.12,"j":0.2},{"g":"C","c":"OFF","v":0.4,"j":-0.05}
],
"cap":[
{"line":1,"k":"b0","t":"FIGURE 2 |"},
{"line":1,"k":"n1","t":"Each dot shows the percentage of reads from a sample that"},
{"line":2,"k":"n0","t":"mapped to the"},
{"line":2,"k":"i2a","t":"H. sapiens"},
{"line":2,"k":"n2b","t":"genome"},
{"line":2,"k":"b2c","t":"(A)"},
{"line":2,"k":"n2d","t":"or"},
{"line":2,"k":"i2e","t":"C. acnes"},
{"line":2,"k":"b2f","t":"(B)"},
{"line":2,"k":"n2g","t":". Each boxplot"},
{"line":3,"k":"n0","t":"summarises the distribution of these proportions in samples from a given city."},
{"line":4,"k":"n0","t":"Cities are shown in descending order of median percentages for"},
{"line":4,"k":"i4","t":"H."},
{"line":5,"k":"i0","t":"sapiens"},
{"line":5,"k":"n5","t":". Note the change of x-axis scale between panels."}
]
},
"vconcat":[
{"hconcat":[
 {"title":{"text":"A","anchor":"start","fontSize":25,"fontWeight":"bold","color":"black","offset":-3,"dx":29},
  "spacing":0,
  "vconcat":[
   {"width":261,"height":38,"view":{"fill":"#d9d9d9","stroke":null},"data":{"values":[{"s":"H.sapiens"}]},"mark":{"type":"text","fontSize":19.7,"color":"#1a1a1a","baseline":"middle"},"encoding":{"text":{"field":"s"}}},
   {"width":261,"height":608,"view":{"fill":"#ebebeb","stroke":null},
    "layer":[
     {"data":{"name":"box"},"transform":[{"filter":"datum.g=='H'"}],"mark":{"type":"rule","color":"#333333","strokeWidth":2.2},
      "encoding":{
       "y":{"field":"c","type":"nominal","scale":{"domain":["SDJ","TYO","BCN","BER","FAI","ARN","SAO","NYC","DOH","SGP","SCL","DEN","LCY","IEV","HKG","TPE","KUL","ICN","ZRH","SFO","ILR","LIS","OFF"],"type":"band","paddingInner":0,"paddingOuter":0.1},"axis":{"title":"city","titleFontSize":24.6,"titleFontWeight":"normal","titleColor":"black","titlePadding":10,"labelFontSize":19.7,"labelColor":"#4d4d4d","labelPadding":4,"tickSize":6,"tickWidth":2.2,"tickColor":"#333333","domain":false,"grid":true,"gridColor":"white","gridWidth":2.2,"bandPosition":0.5}},
       "x":{"field":"lo","type":"quantitative","scale":{"domain":[-4.85,101.85],"nice":false,"zero":false},"axis":{"values":[0,25,50,75,100],"title":null,"labelFontSize":19.7,"labelColor":"#4d4d4d","labelPadding":3,"tickSize":6,"tickWidth":2.2,"tickColor":"#333333","domain":false,"grid":true,"gridColor":"white","gridWidth":2.2,"labelFlush":false,"labelOverlap":false}},
       "x2":{"field":"hi"}}},
     {"data":{"name":"box"},"transform":[{"filter":"datum.g=='H'"}],"mark":{"type":"bar","height":{"band":0.75},"fill":"white","stroke":"#333333","strokeWidth":2.2},
      "encoding":{
       "y":{"field":"c","type":"nominal","scale":{"domain":["SDJ","TYO","BCN","BER","FAI","ARN","SAO","NYC","DOH","SGP","SCL","DEN","LCY","IEV","HKG","TPE","KUL","ICN","ZRH","SFO","ILR","LIS","OFF"],"type":"band","paddingInner":0,"paddingOuter":0.1}},
       "x":{"field":"q1","type":"quantitative","scale":{"domain":[-4.85,101.85],"nice":false,"zero":false},"axis":null},
       "x2":{"field":"q3"}}},
     {"data":{"name":"box"},"transform":[{"filter":"datum.g=='H'"}],"mark":{"type":"tick","size":19.6,"thickness":4.4,"color":"#333333","opacity":1},
      "encoding":{
       "y":{"field":"c","type":"nominal","scale":{"domain":["SDJ","TYO","BCN","BER","FAI","ARN","SAO","NYC","DOH","SGP","SCL","DEN","LCY","IEV","HKG","TPE","KUL","ICN","ZRH","SFO","ILR","LIS","OFF"],"type":"band","paddingInner":0,"paddingOuter":0.1}},
       "x":{"field":"md","type":"quantitative","scale":{"domain":[-4.85,101.85],"nice":false,"zero":false},"axis":null}}},
     {"data":{"name":"pts"},"transform":[{"filter":"datum.g=='H'"}],"mark":{"type":"circle","size":50,"fill":"black","fillOpacity":0.18,"stroke":"black","strokeOpacity":0.24,"strokeWidth":0.8},
      "encoding":{
       "y":{"field":"c","type":"nominal","scale":{"domain":["SDJ","TYO","BCN","BER","FAI","ARN","SAO","NYC","DOH","SGP","SCL","DEN","LCY","IEV","HKG","TPE","KUL","ICN","ZRH","SFO","ILR","LIS","OFF"],"type":"band","paddingInner":0,"paddingOuter":0.1}},
       "yOffset":{"field":"j","type":"quantitative","scale":{"domain":[-0.5,0.5],"range":[0,26.2]}},
       "x":{"field":"v","type":"quantitative","scale":{"domain":[-4.85,101.85],"nice":false,"zero":false},"axis":{"orient":"top","values":[12.5,37.5,62.5,87.5],"labels":false,"ticks":false,"domain":false,"title":null,"grid":true,"gridColor":"white","gridWidth":1.1}}}}
    ],
    "resolve":{"axis":{"x":"independent"}}}
  ]},
 {"title":{"text":"B","anchor":"start","fontSize":25,"fontWeight":"bold","color":"black","offset":-3,"dx":-8},
  "spacing":0,
  "vconcat":[
   {"width":260,"height":38,"view":{"fill":"#d9d9d9","stroke":null},"data":{"values":[{"s":"C.acnes"}]},"mark":{"type":"text","fontSize":19.7,"color":"#1a1a1a","baseline":"middle"},"encoding":{"text":{"field":"s"}}},
   {"width":260,"height":608,"view":{"fill":"#ebebeb","stroke":null},
    "layer":[
     {"data":{"name":"box"},"transform":[{"filter":"datum.g=='C'"}],"mark":{"type":"rule","color":"#333333","strokeWidth":2.2},
      "encoding":{
       "y":{"field":"c","type":"nominal","scale":{"domain":["SDJ","TYO","BCN","BER","FAI","ARN","SAO","NYC","DOH","SGP","SCL","DEN","LCY","IEV","HKG","TPE","KUL","ICN","ZRH","SFO","ILR","LIS","OFF"],"type":"band","paddingInner":0,"paddingOuter":0.1},"axis":{"title":null,"labels":false,"ticks":false,"domain":false,"grid":true,"gridColor":"white","gridWidth":2.2,"bandPosition":0.5}},
       "x":{"field":"lo","type":"quantitative","scale":{"domain":[-1.6,33.7],"nice":false,"zero":false},"axis":{"values":[0,10,20,30],"title":null,"labelFontSize":19.7,"labelColor":"#4d4d4d","labelPadding":3,"tickSize":6,"tickWidth":2.2,"tickColor":"#333333","domain":false,"grid":true,"gridColor":"white","gridWidth":2.2,"labelFlush":false,"labelOverlap":false}},
       "x2":{"field":"hi"}}},
     {"data":{"name":"box"},"transform":[{"filter":"datum.g=='C'"}],"mark":{"type":"bar","height":{"band":0.75},"fill":"white","stroke":"#333333","strokeWidth":2.2},
      "encoding":{
       "y":{"field":"c","type":"nominal","scale":{"domain":["SDJ","TYO","BCN","BER","FAI","ARN","SAO","NYC","DOH","SGP","SCL","DEN","LCY","IEV","HKG","TPE","KUL","ICN","ZRH","SFO","ILR","LIS","OFF"],"type":"band","paddingInner":0,"paddingOuter":0.1}},
       "x":{"field":"q1","type":"quantitative","scale":{"domain":[-1.6,33.7],"nice":false,"zero":false},"axis":null},
       "x2":{"field":"q3"}}},
     {"data":{"name":"box"},"transform":[{"filter":"datum.g=='C'"}],"mark":{"type":"tick","size":19.6,"thickness":4.4,"color":"#333333","opacity":1},
      "encoding":{
       "y":{"field":"c","type":"nominal","scale":{"domain":["SDJ","TYO","BCN","BER","FAI","ARN","SAO","NYC","DOH","SGP","SCL","DEN","LCY","IEV","HKG","TPE","KUL","ICN","ZRH","SFO","ILR","LIS","OFF"],"type":"band","paddingInner":0,"paddingOuter":0.1}},
       "x":{"field":"md","type":"quantitative","scale":{"domain":[-1.6,33.7],"nice":false,"zero":false},"axis":null}}},
     {"data":{"name":"pts"},"transform":[{"filter":"datum.g=='C'"}],"mark":{"type":"circle","size":50,"fill":"black","fillOpacity":0.18,"stroke":"black","strokeOpacity":0.24,"strokeWidth":0.8},
      "encoding":{
       "y":{"field":"c","type":"nominal","scale":{"domain":["SDJ","TYO","BCN","BER","FAI","ARN","SAO","NYC","DOH","SGP","SCL","DEN","LCY","IEV","HKG","TPE","KUL","ICN","ZRH","SFO","ILR","LIS","OFF"],"type":"band","paddingInner":0,"paddingOuter":0.1}},
       "yOffset":{"field":"j","type":"quantitative","scale":{"domain":[-0.5,0.5],"range":[0,26.2]}},
       "x":{"field":"v","type":"quantitative","scale":{"domain":[-1.6,33.7],"nice":false,"zero":false},"axis":{"orient":"top","values":[5,15,25],"labels":false,"ticks":false,"domain":false,"title":null,"grid":true,"gridColor":"white","gridWidth":1.1}}}}
    ],
    "resolve":{"axis":{"x":"independent"}}}
  ]}
 ],
 "spacing":-8},
{"width":620,"height":107.5,"data":{"name":"cap"},
 "title":{"text":"percentage of sample reads","anchor":"middle","frame":"group","fontSize":24.6,"fontWeight":"normal","color":"black","baseline":"alphabetic","offset":21,"dx":-43},
 "encoding":{"y":{"field":"line","type":"ordinal","axis":null,"scale":{"type":"band","paddingInner":0,"paddingOuter":0}},"x":{"datum":0,"type":"quantitative","scale":{"domain":[0,1],"range":[-87,533]},"axis":null},"text":{"field":"t"}},
 "layer":[
  {"transform":[{"filter":"datum.k=='b0'"}],"mark":{"type":"text","align":"left","baseline":"middle","font":"Liberation Sans","fontSize":17.5,"fontWeight":"bold","color":"#231f20"}},
  {"transform":[{"filter":"datum.k=='n0'"}],"mark":{"type":"text","align":"left","baseline":"middle","font":"Liberation Sans","fontSize":17.5,"color":"#231f20"}},
  {"transform":[{"filter":"datum.k=='i0'"}],"mark":{"type":"text","align":"left","baseline":"middle","font":"Liberation Sans","fontSize":17.5,"fontStyle":"italic","color":"#231f20"}},
  {"transform":[{"filter":"datum.k=='n1'"}],"mark":{"type":"text","align":"left","baseline":"middle","font":"Liberation Sans","fontSize":17.5,"color":"#231f20","dx":95.3}},
  {"transform":[{"filter":"datum.k=='i2a'"}],"mark":{"type":"text","align":"left","baseline":"middle","font":"Liberation Sans","fontSize":17.5,"fontStyle":"italic","color":"#231f20","dx":116.7}},
  {"transform":[{"filter":"datum.k=='n2b'"}],"mark":{"type":"text","align":"left","baseline":"middle","font":"Liberation Sans","fontSize":17.5,"color":"#231f20","dx":204.3}},
  {"transform":[{"filter":"datum.k=='b2c'"}],"mark":{"type":"text","align":"left","baseline":"middle","font":"Liberation Sans","fontSize":17.5,"fontWeight":"bold","color":"#231f20","dx":272.4}},
  {"transform":[{"filter":"datum.k=='n2d'"}],"mark":{"type":"text","align":"left","baseline":"middle","font":"Liberation Sans","fontSize":17.5,"color":"#231f20","dx":301.5}},
  {"transform":[{"filter":"datum.k=='i2e'"}],"mark":{"type":"text","align":"left","baseline":"middle","font":"Liberation Sans","fontSize":17.5,"fontStyle":"italic","color":"#231f20","dx":322.0}},
  {"transform":[{"filter":"datum.k=='b2f'"}],"mark":{"type":"text","align":"left","baseline":"middle","font":"Liberation Sans","fontSize":17.5,"fontWeight":"bold","color":"#231f20","dx":395.9}},
  {"transform":[{"filter":"datum.k=='n2g'"}],"mark":{"type":"text","align":"left","baseline":"middle","font":"Liberation Sans","fontSize":17.5,"color":"#231f20","dx":420.2}},
  {"transform":[{"filter":"datum.k=='i4'"}],"mark":{"type":"text","align":"left","baseline":"middle","font":"Liberation Sans","fontSize":17.5,"fontStyle":"italic","color":"#231f20","dx":500.9}},
  {"transform":[{"filter":"datum.k=='n5'"}],"mark":{"type":"text","align":"left","baseline":"middle","font":"Liberation Sans","fontSize":17.5,"color":"#231f20","dx":60.3}}
 ]}
],
"spacing":9
}
